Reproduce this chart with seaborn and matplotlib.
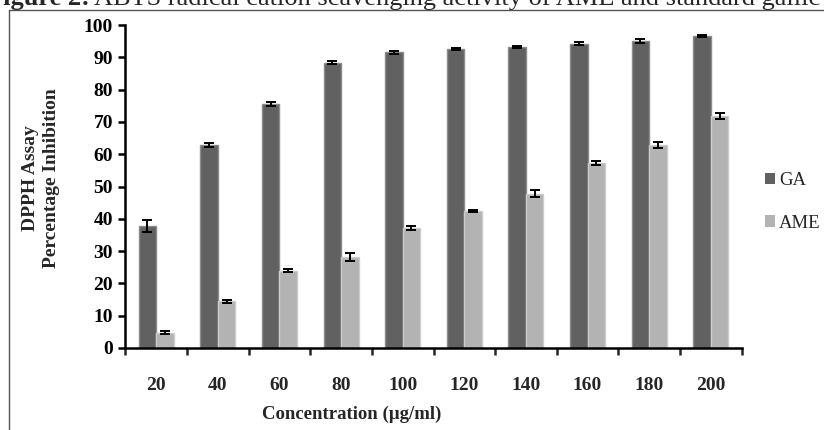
import numpy as np
import pandas as pd
import matplotlib
matplotlib.use("Agg")
import matplotlib.pyplot as plt
import seaborn as sns
from matplotlib.lines import Line2D
from matplotlib.patches import Patch

concentrations = ["20", "40", "60", "80", "100", "120", "140", "160", "180", "200"]
ga_values = [37.8, 62.8, 75.6, 88.3, 91.6, 92.5, 93.2, 94.2, 95.1, 96.5]
ga_errors = [1.9, 0.6, 0.7, 0.4, 0.5, 0.3, 0.2, 0.4, 0.6, 0.3]
ame_values = [4.7, 14.4, 23.9, 28.1, 37.1, 42.4, 47.8, 57.2, 62.9, 71.8]
ame_errors = [0.5, 0.5, 0.5, 1.2, 0.6, 0.4, 1.0, 0.6, 1.0, 1.0]
series = ["GA", "AME"]
colors = {"GA": "#616161", "AME": "#b3b3b3"}
edges = {"GA": "#8c8c8c", "AME": "#cccccc"}

df = pd.DataFrame({
    "Concentration": concentrations * 2,
    "Series": ["GA"] * len(concentrations) + ["AME"] * len(concentrations),
    "Value": ga_values + ame_values,
})
errs = {"GA": ga_errors, "AME": ame_errors}

sns.set_style("white")
plt.rcParams["font.family"] = ["Liberation Serif", "DejaVu Serif"]

fig = plt.figure(figsize=(8.24, 4.30), dpi=100)
ax = fig.add_axes([125.4 / 824, 1 - 348 / 430, (741.6 - 125.4) / 824, (348 - 25) / 430])

sns.barplot(data=df, x="Concentration", y="Value", hue="Series", order=concentrations,
            hue_order=series, palette=colors, width=0.57, errorbar=None,
            ax=ax, legend=False, linewidth=1.0)

bars = [p for p in ax.patches]
n = len(concentrations)
for si, s in enumerate(series):
    for ci in range(n):
        p = bars[si * n + ci]
        p.set_edgecolor(edges[s])
        xc = p.get_x() + p.get_width() / 2
        ax.errorbar(xc, p.get_height(), yerr=errs[s][ci], fmt="none", ecolor="black",
                    elinewidth=1.4, capsize=3.5, capthick=1.4, zorder=5)

ax.set_ylim(0, 100)
ax.set_xlim(-0.5, n - 0.5)
ax.set_yticks(np.arange(0, 101, 10))
ax.set_xticks(range(n))
ax.set_xticklabels(concentrations)
ax.set_xticks(np.arange(-0.5, n, 1.0), minor=True)

for side in ["top", "right"]:
    ax.spines[side].set_visible(False)
for side in ["left", "bottom"]:
    ax.spines[side].set_linewidth(1.8)
    ax.spines[side].set_color("black")

ax.tick_params(axis="y", which="major", direction="out", length=5, width=1.8,
               left=True, labelsize=14, pad=4, colors="black")
ax.tick_params(axis="x", which="major", length=0, labelsize=14, pad=21)
ax.tick_params(axis="x", which="minor", direction="out", length=5, width=1.8, bottom=True)
for lab in ax.get_xticklabels() + ax.get_yticklabels():
    lab.set_fontweight("bold")

ax.set_xlabel("")
ax.set_ylabel("")
fig.text(352 / 824, 1 - 414 / 430, "Concentration (µg/ml)", ha="center", va="center",
         fontsize=13.5, fontweight="bold")
fig.text(41 / 824, 1 - 178 / 430, "DPPH Assay\nPercentage Inhibition", ha="center",
         va="center", rotation=90, fontsize=14, fontweight="bold", linespacing=1.25)

handles = [Patch(facecolor=colors[s], edgecolor="none") for s in series]
fig.legend(handles, series, loc="center left", bbox_to_anchor=(748 / 824, 1 - 202 / 430),
           frameon=False, fontsize=13.5, handlelength=0.55, handleheight=0.55,
           handletextpad=0.2, labelspacing=1.35)

fig.add_artist(Line2D([9 / 824, 1.0], [1 - 10 / 430, 1 - 10 / 430], color="#555555",
                      linewidth=1.0, transform=fig.transFigure))
fig.add_artist(Line2D([9 / 824, 9 / 824], [0.0, 1 - 10 / 430], color="#555555",
                      linewidth=1.0, transform=fig.transFigure))

# caption, clipped at the top edge as in the reference
t1 = fig.text(-13 / 824, 1 - 5 / 430, "Figure 2:", ha="left", va="baseline",
              fontsize=19, fontweight="bold")
fig.canvas.draw()
bb = t1.get_window_extent()
fig.text(bb.x1 / 824 + 4 / 824, 1 - 5 / 430,
         "ABTS radical cation scavenging activity of AME and standard gallic acid",
         ha="left", va="baseline", fontsize=19)

fig.savefig("out.png", dpi=100)
